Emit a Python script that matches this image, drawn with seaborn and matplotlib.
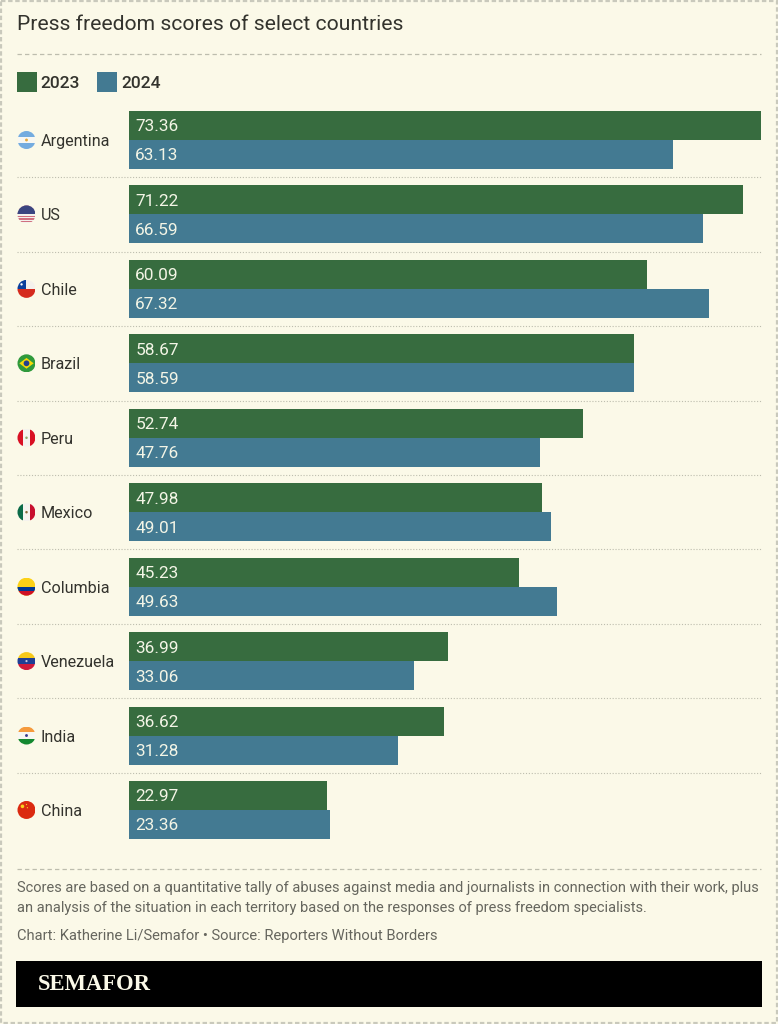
import matplotlib
matplotlib.use("Agg")
import matplotlib.pyplot as plt
import pandas as pd
import seaborn as sns
from matplotlib.patches import Rectangle, Circle, Polygon

countries = ["Argentina", "US", "Chile", "Brazil", "Peru", "Mexico", "Columbia", "Venezuela", "India", "China"]
scores_2023 = [73.36, 71.22, 60.09, 58.67, 52.74, 47.98, 45.23, 36.99, 36.62, 22.97]
scores_2024 = [63.13, 66.59, 67.32, 58.59, 47.76, 49.01, 49.63, 33.06, 31.28, 23.36]
years = ["2023", "2024"]
title = "Press freedom scores of select countries"
note = ("Scores are based on a quantitative tally of abuses against media and journalists in connection with their work, plus\n"
        "an analysis of the situation in each territory based on the responses of press freedom specialists.")
credit = "Chart: Katherine Li/Semafor \u2022 Source: Reporters Without Borders"
brand = "SEMAFOR"

BG = "#FBF9E8"
GREEN = "#376C3F"
BLUE = "#437A92"
INK = "#33332D"
GREY = "#66665E"
W, H = 778, 1024
plt.rcParams["font.family"] = ["Roboto", "DejaVu Sans"]

df = pd.DataFrame({
    "country": countries * 2,
    "year": [years[0]] * len(countries) + [years[1]] * len(countries),
    "score": scores_2023 + scores_2024,
})

fig = plt.figure(figsize=(W / 100, H / 100), dpi=100, facecolor=BG)
PITCH = 74.44
ax = fig.add_axes([129 / W, 1 - (140 + 9.5 * PITCH) / H, (761 - 129) / W, 10 * PITCH / H])
ax.set_facecolor("none")
sns.barplot(data=df, y="country", x="score", hue="year", order=countries, hue_order=years,
            palette=[GREEN, BLUE], width=58 / PITCH, gap=0, saturation=1, ax=ax, legend=True)
ax.set_xlim(0, 73.36)
ax.set_ylim(9.5, -0.5)
ax.set_xlabel("")
ax.set_ylabel("")
ax.xaxis.set_visible(False)
for s in ax.spines.values():
    s.set_visible(False)
ax.tick_params(axis="y", length=0, pad=88 * 0.72, labelsize=11.6, labelcolor=INK)
for t in ax.get_yticklabels():
    t.set_ha("left")

# value labels inside bar base
for cont, vals in zip(ax.containers, [scores_2023, scores_2024]):
    for bar, v in zip(cont, vals):
        ax.annotate(f"{v:.2f}", (0, bar.get_y() + bar.get_height() / 2), xytext=(4.5, 0),
                    textcoords="offset points", va="center_baseline", ha="left",
                    color="#F3F5E6", fontsize=12.4)

# row separators
xf = (17 - 129) / (761 - 129)
for i in range(len(countries) - 1):
    ax.plot([xf, 1], [i + 0.5, i + 0.5], transform=ax.get_yaxis_transform(), clip_on=False,
            color="#BDBDAE", lw=0.8, ls=(0, (1, 1.6)))

# legend
handles, labels = ax.get_legend_handles_labels()
ax.get_legend().remove()
fig.legend(handles, labels, loc="center left", bbox_to_anchor=(17 / W, 1 - 82 / H),
           bbox_transform=fig.transFigure, ncols=2, frameon=False, borderpad=0, borderaxespad=0,
           handlelength=1.15, handleheight=1.40, handletextpad=0.22, columnspacing=0.98,
           prop={"size": 12.5, "weight": "medium"}, labelcolor=INK)

# pixel overlay for page furniture and flags
ov = fig.add_axes([0, 0, 1, 1], zorder=-1)
ov.set_xlim(0, W)
ov.set_ylim(H, 0)
ov.axis("off")
fl = fig.add_axes([0, 0, 1, 1], zorder=5)
fl.set_xlim(0, W)
fl.set_ylim(H, 0)
fl.axis("off")
fl.patch.set_alpha(0)

ov.add_patch(Rectangle((1, 1), W - 2, H - 2, fill=False, ec="#C9C9BC", lw=1.6, ls=(0, (2, 1.2))))
ov.plot([17, 761], [53.5, 53.5], color="#BDBDAE", lw=0.9, ls=(0, (3.5, 2.5)))
ov.plot([17, 761], [868.5, 868.5], color="#BDBDAE", lw=0.9, ls=(0, (3.5, 2.5)))
ov.add_patch(Rectangle((16, 961), 746, 46, fc="black", ec="none"))

fl.text(17, 24.5, title, fontsize=15.25, color=INK, va="center", ha="left")
fl.text(17, 898, note, fontsize=10.55, color=GREY, va="center", ha="left", linespacing=1.55)
fl.text(17, 936, credit, fontsize=10.65, color=GREY, va="center", ha="left")
fl.text(38, 984, brand, fontsize=16.3, color=BG, va="center", ha="left",
        family="Liberation Serif", weight="bold")


def flag(i, parts):
    yc = fl.transData.inverted().transform(ax.transData.transform((0, i)))[1]
    cx, r = 26.5, 9
    clip = Circle((cx, yc), r, transform=fl.transData)
    for p in parts:
        kind = p[0]
        if kind == "h":  # horizontal band: top frac, bottom frac
            art = Rectangle((cx - r, yc - r + 2 * r * p[1]), 2 * r, 2 * r * (p[2] - p[1]), fc=p[3], ec="none")
        elif kind == "v":
            art = Rectangle((cx - r + 2 * r * p[1], yc - r), 2 * r * (p[2] - p[1]), 2 * r, fc=p[3], ec="none")
        elif kind == "r":
            art = Rectangle((cx - r + 2 * r * p[1], yc - r + 2 * r * p[2]), 2 * r * p[3], 2 * r * p[4], fc=p[5], ec="none")
        elif kind == "c":
            art = Circle((cx + p[1] * r, yc + p[2] * r), p[3] * r, fc=p[4], ec="none")
        elif kind == "d":
            art = Polygon([(cx - .8 * r, yc), (cx, yc - .6 * r), (cx + .8 * r, yc), (cx, yc + .6 * r)], fc=p[1], ec="none")
        fl.add_patch(art)
        art.set_clip_path(clip)


us = [("h", 0, 1, "#F4F1EC")] + [("h", k / 7, (k + .5) / 7, "#D0707F") for k in range(7)] + [("r", 0, 0, 1, .5, "#3A4580")]
flags = [
    [("h", 0, 1, "#F7F7F2"), ("h", 0, .33, "#74ACDF"), ("h", .67, 1, "#74ACDF"), ("c", 0, 0, .16, "#E8A93C")],
    us,
    [("h", 0, .5, "#F4F1EC"), ("h", .5, 1, "#D52B1E"), ("r", 0, 0, .45, .5, "#0B3F9C"), ("c", -.55, -.5, .13, "#FFFFFF")],
    [("h", 0, 1, "#2F9A3C"), ("d", "#F5D90A"), ("c", 0, 0, .32, "#23408E")],
    [("v", 0, 1, "#F5F3EE"), ("v", 0, .33, "#D91023"), ("v", .67, 1, "#D91023"), ("c", 0, 0, .14, "#8FA86A")],
    [("v", 0, 1, "#F5F3EE"), ("v", 0, .33, "#0B6B47"), ("v", .67, 1, "#C8102E"), ("c", 0, 0, .14, "#8A6A3A")],
    [("h", 0, 1, "#FCD116"), ("h", .5, .75, "#003893"), ("h", .75, 1, "#CE1126")],
    [("h", 0, .33, "#F6C91A"), ("h", .33, .67, "#1F3F95"), ("h", .67, 1, "#CF1B3B"), ("c", 0, 0, .12, "#C9CBE0")],
    [("h", 0, .33, "#F59A3C"), ("h", .33, .67, "#F7F7F2"), ("h", .67, 1, "#13882F"), ("c", 0, 0, .16, "#3A3A8C")],
    [("h", 0, 1, "#DB2A10"), ("c", -.45, -.4, .2, "#F8D21E"), ("c", 0, -.6, .07, "#F8D21E"), ("c", .1, -.25, .07, "#F8D21E")],
]
for i, f in enumerate(flags):
    flag(i, f)

fig.savefig("out.png", dpi=100, facecolor=BG)
